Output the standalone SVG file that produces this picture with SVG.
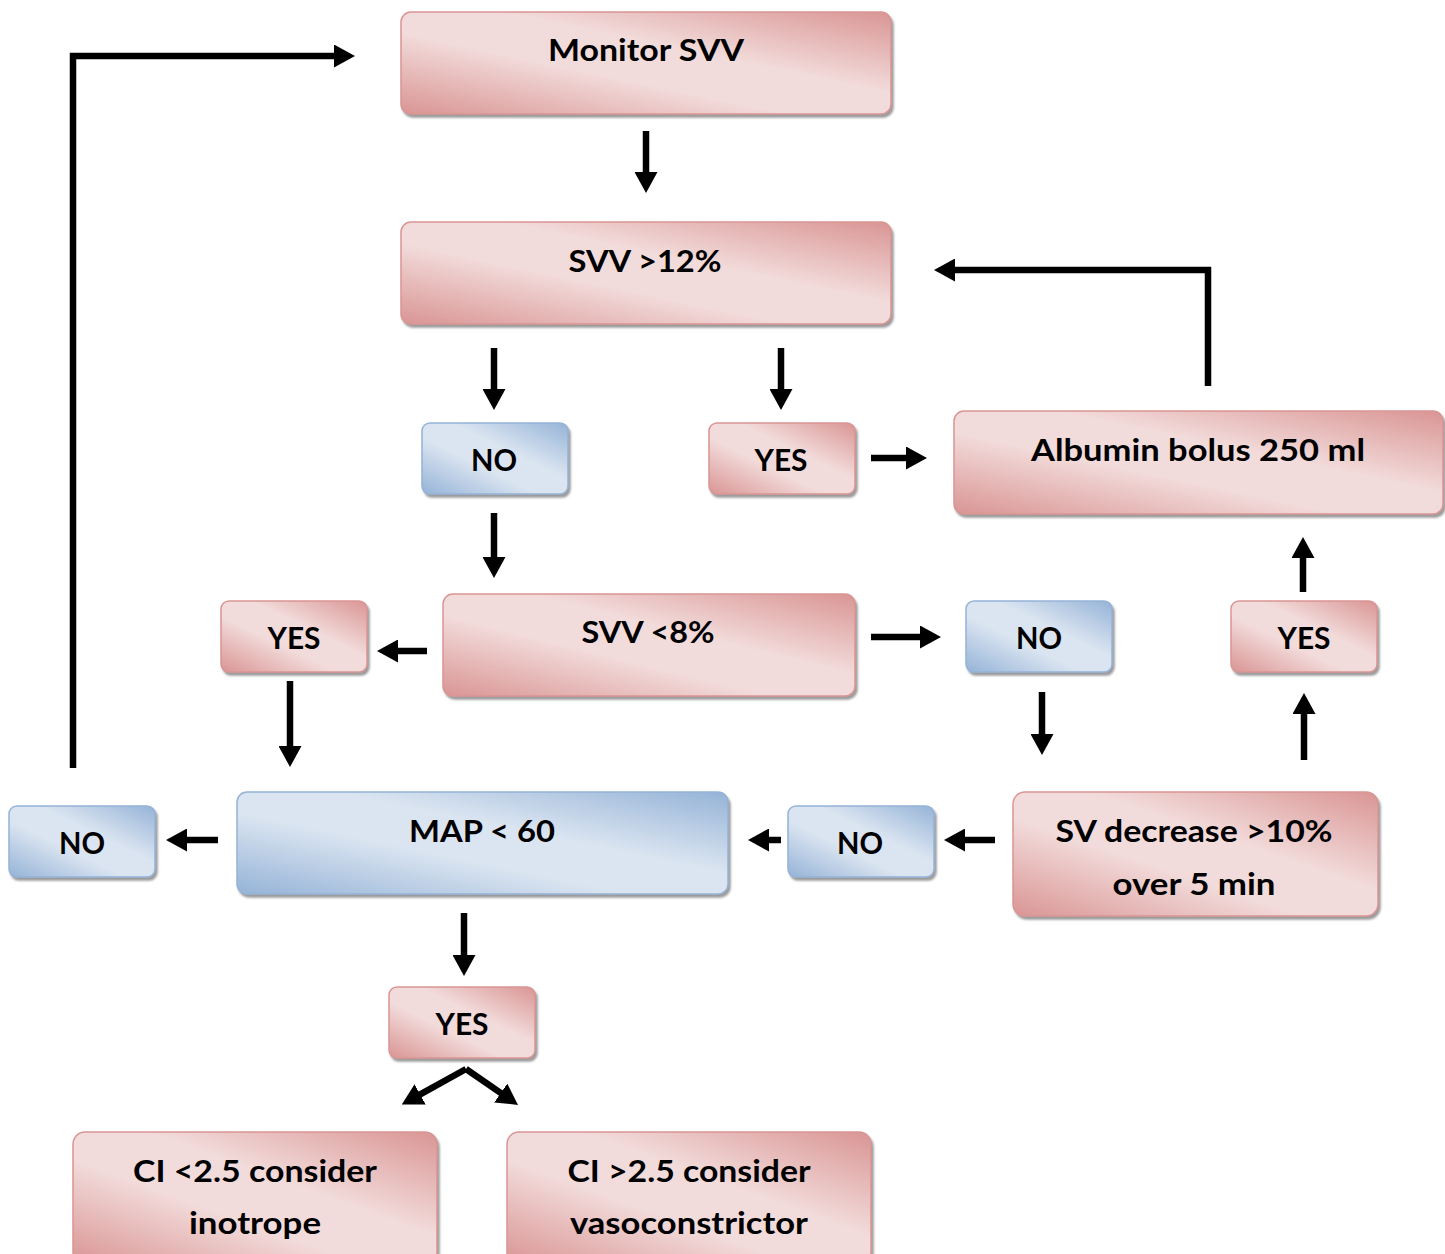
<svg xmlns="http://www.w3.org/2000/svg" width="1445" height="1254" viewBox="0 0 1445 1254">
<defs>
<linearGradient id="gp" x1="1" y1="0" x2="0" y2="1">
<stop offset="0" stop-color="#d99594"/>
<stop offset="0.4" stop-color="#f2dcdb"/>
<stop offset="0.6" stop-color="#f2dcdb"/>
<stop offset="1" stop-color="#d99594"/>
</linearGradient>
<linearGradient id="gb" x1="1" y1="0" x2="0" y2="1">
<stop offset="0" stop-color="#95b3d7"/>
<stop offset="0.4" stop-color="#dbe5f1"/>
<stop offset="0.6" stop-color="#dbe5f1"/>
<stop offset="1" stop-color="#95b3d7"/>
</linearGradient>
<filter id="sh" x="-5%" y="-10%" width="115%" height="130%">
<feDropShadow dx="2" dy="3" stdDeviation="1" flood-color="#6f6f6f" flood-opacity="0.7"/>
</filter>
<marker id="ah" markerUnits="userSpaceOnUse" markerWidth="21" markerHeight="23" refX="2" refY="11.5" orient="auto" viewBox="0 0 21 23">
<path d="M0,0 L21,11.5 L0,23 z" fill="#000"/>
</marker>
</defs>
<style>
.p{fill:url(#gp);stroke:#d99594;stroke-width:1.5;filter:url(#sh)}
.b{fill:url(#gb);stroke:#95b3d7;stroke-width:1.5;filter:url(#sh)}
text{font-family:Lato,"Open Sans","Liberation Sans",sans-serif;font-weight:bold;font-size:31px;fill:#000;text-anchor:middle}
.c{fill:none;stroke:#000;stroke-width:6.5;marker-end:url(#ah)}
.l{fill:none;stroke:#000;stroke-width:6.5}
</style>
<rect width="1445" height="1254" fill="#fff"/>

<g id="monitor"><rect class="p" x="401" y="12" width="490" height="102" rx="10"/><text x="646" y="61" textLength="196" lengthAdjust="spacingAndGlyphs">Monitor SVV</text></g>
<g id="svv12"><rect class="p" x="401" y="222" width="490" height="102" rx="10"/><text x="645" y="272" textLength="153" lengthAdjust="spacingAndGlyphs">SVV &gt;12%</text></g>
<g id="no1"><rect class="b" x="422" y="423" width="146" height="71" rx="8"/><text x="494" y="471" textLength="46" lengthAdjust="spacingAndGlyphs">NO</text></g>
<g id="yes1"><rect class="p" x="709" y="423" width="146" height="71" rx="8"/><text x="781" y="471" textLength="53" lengthAdjust="spacingAndGlyphs">YES</text></g>
<g id="albumin"><rect class="p" x="954" y="411" width="489" height="103" rx="10"/><text x="1198" y="461" textLength="334" lengthAdjust="spacingAndGlyphs">Albumin bolus 250 ml</text></g>
<g id="svv8"><rect class="p" x="443" y="594" width="412" height="102" rx="10"/><text x="648" y="643" textLength="133" lengthAdjust="spacingAndGlyphs">SVV &lt;8%</text></g>
<g id="yes2"><rect class="p" x="221" y="601" width="146" height="71" rx="8"/><text x="294" y="649" textLength="53" lengthAdjust="spacingAndGlyphs">YES</text></g>
<g id="no2"><rect class="b" x="966" y="601" width="146" height="71" rx="8"/><text x="1039" y="649" textLength="46" lengthAdjust="spacingAndGlyphs">NO</text></g>
<g id="yes3"><rect class="p" x="1231" y="601" width="146" height="71" rx="8"/><text x="1304" y="649" textLength="53" lengthAdjust="spacingAndGlyphs">YES</text></g>
<g id="svdecrease"><rect class="p" x="1013" y="792" width="365" height="124" rx="12"/><text x="1194" y="842" textLength="277" lengthAdjust="spacingAndGlyphs">SV decrease &gt;10%</text><text x="1194" y="895" textLength="163" lengthAdjust="spacingAndGlyphs">over 5 min</text></g>
<g id="no3"><rect class="b" x="788" y="806" width="146" height="71" rx="8"/><text x="860" y="854" textLength="46" lengthAdjust="spacingAndGlyphs">NO</text></g>
<g id="map"><rect class="b" x="237" y="792" width="491" height="102" rx="10"/><text x="482" y="842" textLength="146" lengthAdjust="spacingAndGlyphs">MAP &lt; 60</text></g>
<g id="no4"><rect class="b" x="9" y="806" width="146" height="71" rx="8"/><text x="82" y="854" textLength="46" lengthAdjust="spacingAndGlyphs">NO</text></g>
<g id="yes4"><rect class="p" x="389" y="987" width="146" height="71" rx="8"/><text x="462" y="1035" textLength="53" lengthAdjust="spacingAndGlyphs">YES</text></g>
<g id="inotrope"><rect class="p" x="73" y="1132" width="364" height="132" rx="12"/><text x="255" y="1182" textLength="244" lengthAdjust="spacingAndGlyphs">CI &lt;2.5 consider</text><text x="255" y="1234" textLength="132" lengthAdjust="spacingAndGlyphs">inotrope</text></g>
<g id="vasoconstrictor"><rect class="p" x="507" y="1132" width="364" height="132" rx="12"/><text x="689" y="1182" textLength="243" lengthAdjust="spacingAndGlyphs">CI &gt;2.5 consider</text><text x="689" y="1234" textLength="238" lengthAdjust="spacingAndGlyphs">vasoconstrictor</text></g>

<g id="connectors">
<path class="c" d="M646,131 V174"/>
<path class="c" d="M494,348 V391"/>
<path class="c" d="M781,348 V391"/>
<path class="c" d="M871,458 H908"/>
<path class="c" d="M1208,386 V270 H953"/>
<path class="c" d="M494,513 V559"/>
<path class="c" d="M427,651 H396"/>
<path class="c" d="M871,637 H922"/>
<path class="c" d="M1303,592 V556"/>
<path class="c" d="M290,681 V748"/>
<path class="c" d="M1042,692 V736"/>
<path class="c" d="M1304,760 V712"/>
<path class="c" d="M995,840 H963"/>
<path class="c" d="M781,840 H767"/>
<path class="c" d="M218,840 H185"/>
<path class="c" d="M73,768 V56 H336"/>
<path class="c" d="M464,913 V957"/>
<path class="c" d="M466,1069 L418.4,1095.4"/>
<path class="c" d="M466,1069 L502.4,1094.1"/>
</g>
</svg>
